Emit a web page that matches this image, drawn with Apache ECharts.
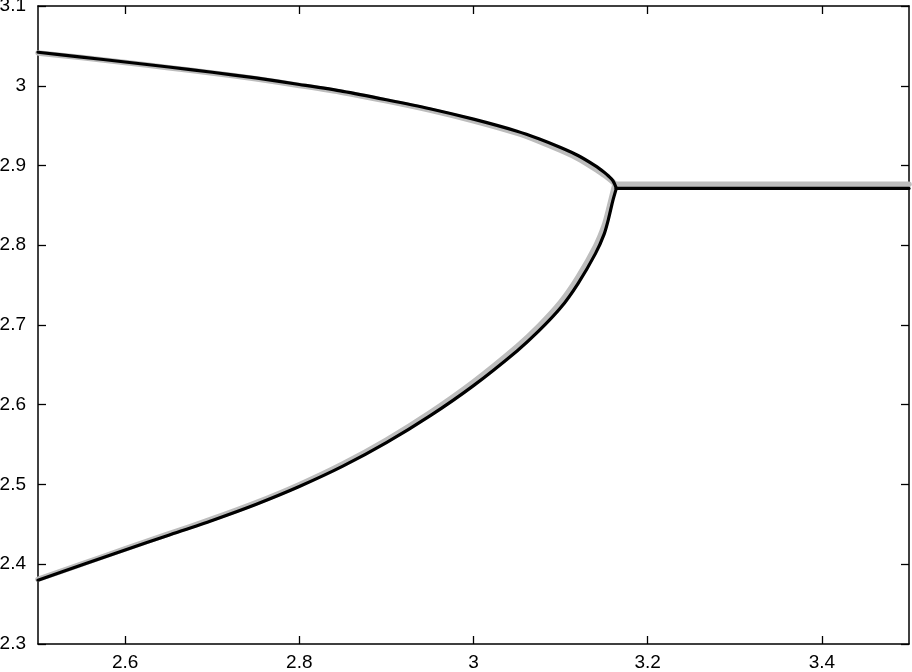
<!DOCTYPE html>
<html>
<head>
<meta charset="utf-8">
<script src="https://cdn.jsdelivr.net/npm/echarts@6/dist/echarts.min.js"></script>
<style>html,body{margin:0;padding:0;background:#fff}#c{width:912px;height:672px}</style>
</head>
<body>
<div id="c"></div>
<script>
// ---- data ----
const xBranchBlack = [2.5, 2.55, 2.6, 2.65, 2.7, 2.75, 2.8, 2.85, 2.9, 2.95, 3.0, 3.05, 3.075, 3.1, 3.12, 3.14, 3.15, 3.155, 3.16, 3.164];
const upperBlack   = [3.0420, 3.0360, 3.0298, 3.0235, 3.0169, 3.0098, 3.0016, 2.9930, 2.9825, 2.9712, 2.9581, 2.9430, 2.9335, 2.9225, 2.9125, 2.8995, 2.8915, 2.8868, 2.8810, 2.8713];
const lowerBlack   = [2.3800, 2.3990, 2.4180, 2.4365, 2.4550, 2.4750, 2.4975, 2.5230, 2.5525, 2.5860, 2.6240, 2.6675, 2.6925, 2.7215, 2.7520, 2.7895, 2.8140, 2.8330, 2.8560, 2.8713];
const xFlatBlack   = [3.164, 3.5];
const flatBlack    = [2.8713, 2.8713];

const xBranchGray  = [2.5, 2.55, 2.6, 2.65, 2.7, 2.75, 2.8, 2.85, 2.9, 2.95, 3.0, 3.05, 3.075, 3.1, 3.12, 3.14, 3.15, 3.155, 3.16, 3.1625];
const upperGray    = [3.0412, 3.0353, 3.0291, 3.0227, 3.0160, 3.0088, 3.0004, 2.9916, 2.9810, 2.9694, 2.9560, 2.9405, 2.9305, 2.9190, 2.9088, 2.8955, 2.8880, 2.8840, 2.8795, 2.8765];
const lowerGray    = [2.3812, 2.4002, 2.4192, 2.4380, 2.4568, 2.4770, 2.4998, 2.5258, 2.5558, 2.5900, 2.6287, 2.6730, 2.6985, 2.7285, 2.7600, 2.7985, 2.8245, 2.8440, 2.8660, 2.8765];
const xFlatGray    = [3.1625, 3.5];
const flatGray     = [2.8765, 2.8765];

const xTicks = [2.6, 2.8, 3, 3.2, 3.4];
const yTicks = [2.3, 2.4, 2.5, 2.6, 2.7, 2.8, 2.9, 3.0, 3.1];

// ---- chart ----
const pairs = (xs, ys) => xs.map((x, i) => [x, ys[i]]);
const FONT = '"Liberation Sans", Arial, Helvetica, sans-serif';

function lineSeries(xs, ys, color, width, z) {
  return {
    type: 'line',
    data: pairs(xs, ys),
    showSymbol: false,
    symbol: 'none',
    smooth: 0.25,
    lineStyle: { color: color, width: width, cap: 'round', join: 'round' },
    z: z,
    silent: true,
    animation: false
  };
}

const axisLine = { show: true, onZero: false, lineStyle: { color: '#000', width: 1.5 } };
const tickStyle = { show: true, inside: true, length: 8, lineStyle: { color: '#000', width: 1.3 } };

const chart = echarts.init(document.getElementById('c'), null, { renderer: 'canvas' });
chart.setOption({
  animation: false,
  backgroundColor: '#fff',
  grid: { left: 38, right: 3, top: 6, bottom: 28, containLabel: false, outerBoundsMode: 'none' },
  xAxis: [
    {
      type: 'value', min: 2.5, max: 3.5, position: 'bottom',
      axisLine: axisLine,
      axisTick: Object.assign({}, tickStyle, { customValues: xTicks }),
      axisLabel: { customValues: xTicks, color: '#000', fontSize: 19, fontFamily: FONT, margin: 9 },
      splitLine: { show: false }
    },
    {
      type: 'value', min: 2.5, max: 3.5, position: 'top',
      axisLine: axisLine,
      axisTick: Object.assign({}, tickStyle, { customValues: xTicks }),
      axisLabel: { show: false, customValues: xTicks },
      splitLine: { show: false }
    }
  ],
  yAxis: [
    {
      type: 'value', min: 2.3, max: 3.1, position: 'left',
      axisLine: axisLine,
      axisTick: Object.assign({}, tickStyle, { customValues: yTicks }),
      axisLabel: { customValues: yTicks, color: '#000', fontSize: 19, fontFamily: FONT, margin: 12,
        formatter: v => String(Math.round(v * 10) / 10) },
      splitLine: { show: false }
    },
    {
      type: 'value', min: 2.3, max: 3.1, position: 'right',
      axisLine: axisLine,
      axisTick: Object.assign({}, tickStyle, { customValues: yTicks }),
      axisLabel: { show: false, customValues: yTicks },
      splitLine: { show: false }
    }
  ],
  series: [
    lineSeries(xBranchGray, upperGray, '#bdbdbd', 5.5, 1),
    lineSeries(xBranchGray, lowerGray, '#bdbdbd', 5.5, 1),
    lineSeries(xFlatGray, flatGray, '#bdbdbd', 5.5, 1),
    lineSeries(xBranchBlack, upperBlack, '#000', 3.2, 2),
    lineSeries(xBranchBlack, lowerBlack, '#000', 3.2, 2),
    lineSeries(xFlatBlack, flatBlack, '#000', 3.2, 2)
  ]
});
</script>
</body>
</html>
